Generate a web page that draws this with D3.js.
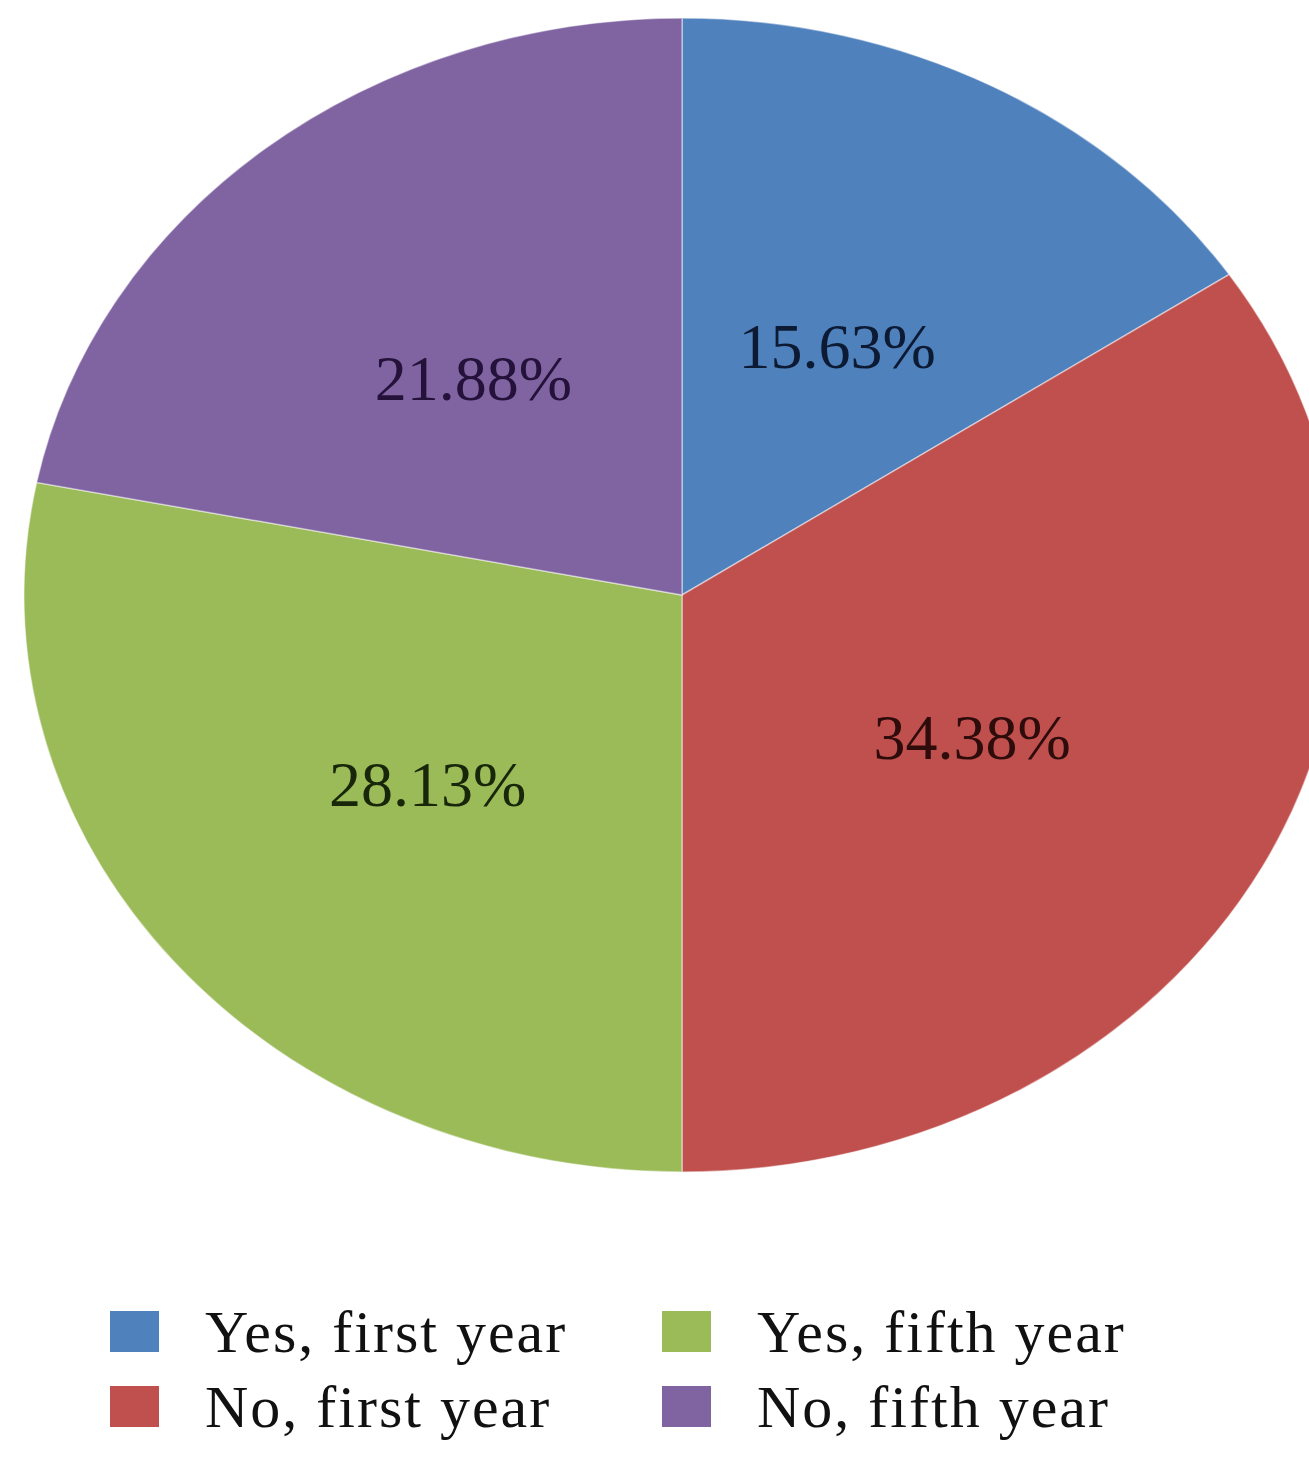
<!DOCTYPE html>
<html>
<head>
<meta charset="utf-8">
<script src="https://cdn.jsdelivr.net/npm/d3@7"></script>
<style>
  html, body { margin: 0; padding: 0; background: #fff; }
  svg { display: block; }
</style>
</head>
<body>
<svg id="chart" width="1309" height="1457"></svg>
<script>
// Survey answers by study year (percent of respondents)
const categories = ["Yes, first year", "No, first year", "Yes, fifth year", "No, fifth year"];
const values = [15.63, 34.38, 28.13, 21.88];
const colors = ["#4F81BD", "#C0504D", "#9BBB59", "#8064A2"];
const labelInk = ["#0c1a33", "#2e0c0c", "#18260a", "#24123a"];

// Legend order: two columns, two rows
const legendOrder = [0, 1, 2, 3];

const svg = d3.select("#chart");

// Pie geometry: an ellipse, drawn as a circle stretched horizontally
const cx = 682, cy = 595;
const ry = 577, rx = 658;
const sx = rx / ry;

const pie = d3.pie().sort(null).value(d => d)(values);
const arc = d3.arc().innerRadius(0).outerRadius(ry);
const color = d3.scaleOrdinal().domain(d3.range(categories.length)).range(colors);

const pieG = svg.append("g")
  .attr("transform", `translate(${cx},${cy}) scale(${sx},1)`);

pieG.selectAll("path")
  .data(pie)
  .join("path")
  .attr("d", arc)
  .attr("fill", (d, i) => color(i))
  .attr("stroke", "rgba(255,255,255,0.45)")
  .attr("stroke-width", 1.5)
  .attr("vector-effect", "non-scaling-stroke");

// Percentage labels at the middle of each slice
const labelG = svg.append("g").attr("transform", `translate(${cx},${cy})`);
labelG.selectAll("text")
  .data(pie)
  .join("text")
  .attr("x", d => arc.centroid(d)[0] * sx)
  .attr("y", d => arc.centroid(d)[1] + 6)
  .attr("text-anchor", "middle")
  .attr("dominant-baseline", "central")
  .attr("font-family", "'Liberation Serif', 'DejaVu Serif', serif")
  .attr("font-size", 64)
  .attr("fill", (d, i) => labelInk[i])
  .text((d, i) => values[i].toFixed(2) + "%");

// Legend
const legend = svg.append("g");
const colX = [110, 662];
const rowY = [1352, 1427];
legendOrder.forEach((k, j) => {
  const col = Math.floor(j / 2), row = j % 2;
  const g = legend.append("g").attr("transform", `translate(${colX[col]},${rowY[row]})`);
  g.append("rect")
    .attr("x", 0).attr("y", -41)
    .attr("width", 49).attr("height", 41)
    .attr("fill", color(k));
  g.append("text")
    .attr("x", 95).attr("y", 0)
    .attr("font-family", "'Liberation Serif', 'DejaVu Serif', serif")
    .attr("font-size", 60)
    .attr("letter-spacing", 2)
    .attr("fill", "#111")
    .text(categories[k]);
});
</script>
</body>
</html>
